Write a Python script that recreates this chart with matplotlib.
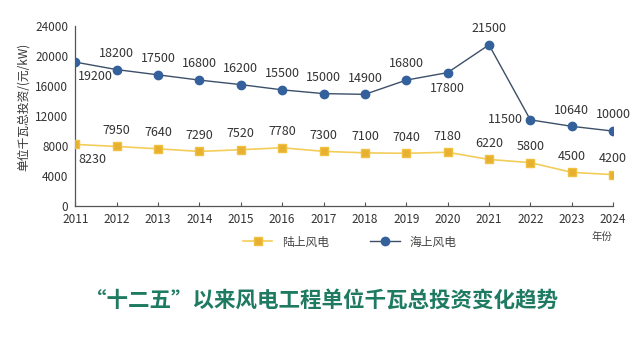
import matplotlib.pyplot as plt
import numpy as np

plt.rcParams['font.family'] = ['Noto Sans CJK SC', 'DejaVu Sans']

years = list(range(2011, 2025))
onshore = [8230, 7950, 7640, 7290, 7520, 7780, 7300, 7100, 7040, 7180, 6220, 5800, 4500, 4200]
offshore = [19200, 18200, 17500, 16800, 16200, 15500, 15000, 14900, 16800, 17800, 21500, 11500, 10640, 10000]
yticks = [0, 4000, 8000, 12000, 16000, 20000, 24000]

# label offsets in points (dx, dy, ha, va)
off_pos = {2011: (2, -6, 'left', 'top'), 2020: (0, -7, 'center', 'top'),
           2022: (-5, 0, 'right', 'center')}
on_pos = {2011: (2, -6, 'left', 'top')}

fig = plt.figure(figsize=(6.44, 3.39), dpi=100)
ax = fig.add_axes([0.117, 0.392, 0.835, 0.531])

ax.plot(years, onshore, color='#f3cd5a', lw=1.2, marker='s', ms=6,
        mfc='#e8b030', mec='#f0c040', label='陆上风电', zorder=3)
ax.plot(years, offshore, color='#3d4f68', lw=1.0, marker='o', ms=6,
        mfc='#34609c', mec='#34609c', label='海上风电', zorder=3)

for yr, v in zip(years, offshore):
    dx, dy, ha, va = off_pos.get(yr, (0, 7, 'center', 'bottom'))
    ax.annotate(str(v), (yr, v), xytext=(dx, dy), textcoords='offset points',
                ha=ha, va=va, fontsize=9, color='#333333')
for yr, v in zip(years, onshore):
    dx, dy, ha, va = on_pos.get(yr, (0, 7, 'center', 'bottom'))
    ax.annotate(str(v), (yr, v), xytext=(dx, dy), textcoords='offset points',
                ha=ha, va=va, fontsize=9, color='#333333')

ax.set_xlim(2011, 2024)
ax.set_ylim(0, 24000)
ax.set_xticks(years)
ax.set_yticks(yticks)
ax.tick_params(axis='x', direction='in', length=3, labelsize=8.5, colors='#555555',
               labelcolor='#333333', pad=5)
ax.tick_params(axis='y', length=0, labelsize=8.5, labelcolor='#333333', pad=5)
for s in ['top', 'right']:
    ax.spines[s].set_visible(False)
for s in ['left', 'bottom']:
    ax.spines[s].set_color('#555555')
    ax.spines[s].set_linewidth(0.9)

ax.set_ylabel('单位千瓦总投资/(元/kW)', fontsize=8.5, color='#333333', labelpad=4)
ax.yaxis.set_label_coords(-0.085, 0.55)
fig.text(0.935, 0.302, '年份', fontsize=7.5, color='#444444', ha='center', va='center')

ax.legend(loc='center', bbox_to_anchor=(0.51, -0.2), ncol=2, frameon=False,
          fontsize=8.5, handlelength=2.5, columnspacing=3.5, labelcolor='#444444')

fig.text(0.5, 0.115, '“十二五”以来风电工程单位千瓦总投资变化趋势', fontsize=15.5,
         fontweight='bold', color='#1f7a62', ha='center', va='center')

fig.savefig('out.png', dpi=100, facecolor='white')
